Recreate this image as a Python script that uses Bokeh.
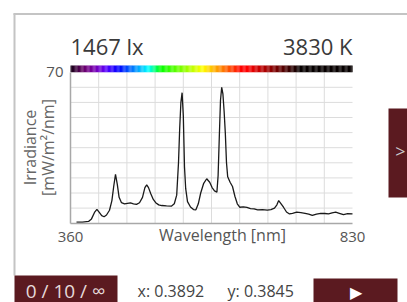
import numpy as np
from bokeh.plotting import figure
from bokeh.models import FixedTicker, Label, BoxAnnotation, ColumnDataSource
from bokeh.embed import file_html
from bokeh.resources import INLINE

# ---- data ----
wavelength = [370, 380, 390, 395, 400, 404, 408, 412, 416, 420, 425, 429, 432, 435, 438, 441,
              445, 450, 455, 460, 465, 470, 475, 480, 484, 487, 490, 494, 498, 502, 507, 512,
              520, 528, 533, 537, 540, 542, 544, 546, 548, 550, 552, 555, 560, 565, 569, 573,
              577, 582, 587, 592, 596, 600, 604, 606, 608, 610, 612, 614, 616, 618, 620, 622,
              626, 630, 634, 638, 642, 648, 654, 660, 666, 672, 680, 688, 694, 700, 704, 707,
              711, 715, 720, 725, 730, 737, 744, 751, 757, 763, 770, 777, 784, 790, 796, 802,
              808, 815, 822, 830]
irradiance = [0.5, 0.5, 0.8, 2.0, 5.0, 6.4, 5.0, 3.5, 3.0, 3.8, 6.0, 10.5, 17.0, 22.6, 18.0, 12.0,
              9.5, 9.0, 9.2, 9.4, 9.0, 8.7, 9.5, 12.0, 16.5, 17.8, 16.5, 13.5, 11.0, 9.5, 8.5, 8.2,
              8.0, 7.9, 9.0, 13.0, 28.0, 44.0, 56.0, 60.5, 50.0, 26.0, 16.0, 10.0, 7.5, 6.3, 6.2, 9.0,
              14.0, 18.5, 20.6, 19.0, 16.5, 15.0, 14.4, 22.0, 40.0, 57.0, 63.0, 60.0, 52.0, 42.0, 28.0, 21.5,
              19.0, 17.0, 12.5, 9.0, 7.4, 7.6, 7.3, 6.8, 6.6, 6.2, 6.3, 6.1, 6.3, 7.0, 8.5, 10.5,
              9.0, 7.4, 5.2, 4.3, 4.6, 5.1, 4.9, 4.6, 4.2, 3.6, 4.2, 4.6, 4.5, 4.3, 4.8, 5.1,
              4.6, 4.0, 4.4, 4.3]
x_ticks = [360, 830]
y_ticks = [70]
x_grid = [407, 454, 501, 548, 595, 642, 689, 736, 783]
y_grid = [7, 14, 21, 28, 35, 42, 49, 56, 63]
lux_text = "1467 lx"
cct_text = "3830 K"
x_text = "x: 0.3892"
y_text = "y: 0.3845"
counter_text = "0 / 10 / \u221e"

MAROON = "#5b1a20"
FONT = "Open Sans"
W, H = 407, 302

# plot-area placement in canvas pixels
PX_L, PX_R = 70, 352
PX_T70, PX_B0 = 71.7, 222.7
BAR_TOP = 65
kx = (PX_R - PX_L) / (830 - 360)
ky = (PX_B0 - PX_T70) / 70
x_range = (360 - PX_L / kx, 830 + (W - PX_R) / kx)
y_range = (-(H - PX_B0) / ky, 70 + PX_T70 / ky)
bar_top_val = 70 + (PX_T70 - BAR_TOP) / ky

# spectrum colour bar (visible-light colours)
def wl_rgb(w):
    if w < 440:
        r, g, b = (440 - w) / 60, 0.0, 1.0
    elif w < 490:
        r, g, b = 0.0, (w - 440) / 50, 1.0
    elif w < 510:
        r, g, b = 0.0, 1.0, (510 - w) / 20
    elif w < 580:
        r, g, b = (w - 510) / 70, 1.0, 0.0
    elif w < 645:
        r, g, b = 1.0, (645 - w) / 65, 0.0
    else:
        r, g, b = 1.0, 0.0, 0.0
    r = min(max(r, 0), 1)
    if w < 420:
        f = 0.08 + 0.92 * (w - 360) / 60
    elif w > 655:
        f = max(0.03, 1 - (w - 655) / 90)
    else:
        f = 1.0
    return "#%02x%02x%02x" % (int(255 * r * f), int(255 * g * f), int(255 * b * f))

bar_wl = np.arange(360, 830, 2)
bar_src = ColumnDataSource(dict(left=bar_wl, right=bar_wl + 2.2,
                                color=[wl_rgb(w + 1) for w in bar_wl]))

p = figure(width=W, height=H, x_range=x_range, y_range=y_range,
           output_backend="svg", toolbar_location=None,
           min_border=0, min_border_left=0, min_border_right=0,
           min_border_top=0, min_border_bottom=0)
p.outline_line_color = None
p.background_fill_color = "white"
p.border_fill_color = "white"
p.xgrid.visible = False
p.ygrid.visible = False

# grid lines (bounded to the plot area)
p.segment(x0=x_grid, x1=x_grid, y0=0, y1=70, line_color="#dcdcdc", line_width=1)
p.segment(x0=360, x1=830, y0=y_grid, y1=y_grid, line_color="#dcdcdc", line_width=1)

for ax, ticks, b, loc in ((p.xaxis, x_ticks, (360, 830), 0), (p.yaxis, y_ticks, (0, 70), 360)):
    ax.fixed_location = loc
    ax.ticker = FixedTicker(ticks=ticks)
    ax.bounds = b
    ax.axis_line_color = "#a8a8a8"
    ax.axis_line_width = 1.5
    ax.major_tick_line_color = None
    ax.minor_tick_line_color = None
    ax.major_label_text_font = FONT
    ax.major_label_text_font_size = "15px"
    ax.major_label_text_color = "#555555"
p.xaxis.major_label_standoff = 3
p.yaxis.major_label_standoff = 1

p.quad(left="left", right="right", bottom=70, top=bar_top_val, color="color",
       line_color=None, source=bar_src)
p.line(wavelength, irradiance, line_color="#1a1a1a", line_width=1.3)

def clabel(text, x, y, size, color="#333333", align="left", baseline="middle", angle=0.0):
    p.add_layout(Label(x=x, y=H - y, x_units="screen", y_units="screen", text=text,
                       text_font=FONT, text_font_size=size, text_color=color,
                       text_align=align, text_baseline=baseline, angle=angle))

def cbox(l, r, t, b, color):
    p.add_layout(BoxAnnotation(left=l, right=r, top=H - t, bottom=H - b,
                               left_units="screen", right_units="screen",
                               top_units="screen", bottom_units="screen",
                               fill_color=color, fill_alpha=1, line_color=None))

# frame lines
cbox(13, 15, 13, 275, "#c4c4c4")
cbox(13, W, 12.5, 14.5, "#c4c4c4")
# buttons
cbox(388, W, 108, 197, MAROON)
cbox(14, 117, 275, H, MAROON)
cbox(313, 397, 278, H, MAROON)

clabel(lux_text, 70, 45, "22px", "#3a3a3a")
clabel(cct_text, 352, 45, "22px", "#3a3a3a", align="right")
clabel("Wavelength [nm]", 222, 234, "16px", "#555555", align="center")
clabel("Irradiance", 29, 147, "16px", "#666666", align="center", angle=np.pi / 2)
clabel("[mW/m\u00b2/nm]", 47, 147, "16px", "#666666", align="center", angle=np.pi / 2)
clabel(">", 400, 150, "18px", "#cccccc", align="center")
clabel(counter_text, 65, 290, "19px", "#e6dada", align="center")
clabel(x_text, 137, 290, "16px", "#444444")
clabel(y_text, 227, 290, "16px", "#444444")
clabel("\u25b6", 355, 291, "16px", "white", align="center")

open("out.html", "w").write(file_html(p, INLINE))
